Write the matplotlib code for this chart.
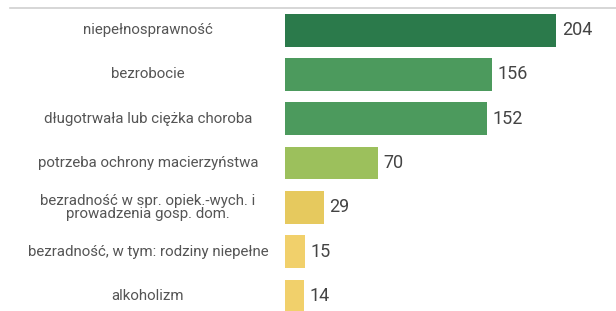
import numpy as np
import matplotlib
matplotlib.use("Agg")
from matplotlib import pyplot as plt, lines, transforms

plt.rcParams['font.family'] = ['Roboto', 'DejaVu Sans']

categories = [
    "niepełnosprawność",
    "bezrobocie",
    "długotrwała lub ciężka choroba",
    "potrzeba ochrony macierzyństwa",
    "bezradność w spr. opiek.-wych. i\nprowadzenia gosp. dom.",
    "bezradność, w tym: rodziny niepełne",
    "alkoholizm",
]
values = [204, 156, 152, 70, 29, 15, 14]
colors = ["#2b7a4b", "#4c9a5d", "#4c9a5d", "#9cc05c", "#e6c95e", "#f1d06b", "#f1d06b"]

W, H = 616, 311
fig = plt.figure(figsize=(W / 100, H / 100), dpi=100)
ax = fig.add_axes([285 / W, 0, 1 - 285 / W, 1 - 8 / H])

y = np.arange(len(values))
ax.barh(y, values, height=0.74, color=colors)
ax.set_xlim(0, 249)
ax.set_ylim(6.34, -0.5)
ax.axis('off')

for yi, v in zip(y, values):
    ax.annotate(str(v), (v, yi), xytext=(4, 0), textcoords='offset points',
                va='center', ha='left', fontsize=13, color='#444444')

trans = transforms.blended_transform_factory(fig.transFigure, ax.transData)
for yi, c in zip(y, categories):
    ax.text(148 / W, yi, c, transform=trans, ha='center', va='center',
            fontsize=10.8, color='#555555', linespacing=0.95)

fig.add_artist(lines.Line2D([10 / W, 1], [1 - 8 / H, 1 - 8 / H],
                            transform=fig.transFigure, color='#d0d0d0', lw=1.2))

fig.savefig("out.png", dpi=100)
